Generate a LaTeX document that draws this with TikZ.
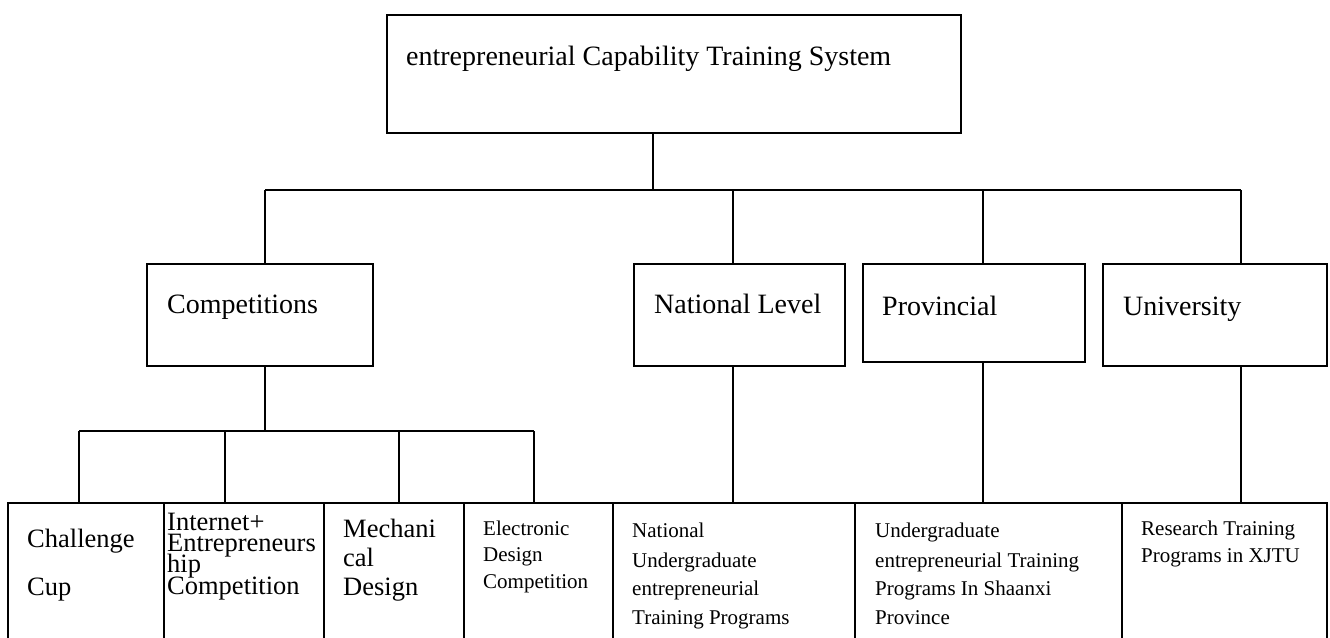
\documentclass[tikz,border=0pt]{standalone}
\usepackage{fontspec}
\setmainfont{Liberation Serif}
\begin{document}
\begin{tikzpicture}[x=1pt,y=-1pt,
  box/.style={draw=black, line width=1.8pt, inner sep=0pt, anchor=north west},
  conn/.style={draw=black, line width=1.4pt},
  lbl/.style={anchor=base west, inner sep=0pt},
  big/.style={lbl, font=\fontsize{28}{34}\selectfont},
  mid/.style={lbl, font=\fontsize{26.5}{32}\selectfont},
  sml/.style={lbl, font=\fontsize{21}{26}\selectfont}]
\useasboundingbox[fill=white] (0,0) rectangle (1330,637);

% boxes
\node[box, minimum width=574pt, minimum height=118pt] (top) at (386,14) {};
\node[box, minimum width=226pt, minimum height=102pt] (comp) at (146,263) {};
\node[box, minimum width=211pt, minimum height=102pt] (nat) at (633,263) {};
\node[box, minimum width=222pt, minimum height=98pt] (prov) at (862,263) {};
\node[box, minimum width=224pt, minimum height=102pt] (univ) at (1102,263) {};

\node[box, minimum width=156pt, minimum height=150pt] (b1) at (7,502) {};
\node[box, minimum width=160pt, minimum height=150pt] (b2) at (163,502) {};
\node[box, minimum width=140pt, minimum height=150pt] (b3) at (323,502) {};
\node[box, minimum width=149pt, minimum height=150pt] (b4) at (463,502) {};
\node[box, minimum width=242pt, minimum height=150pt] (b5) at (612,502) {};
\node[box, minimum width=267pt, minimum height=150pt] (b6) at (854,502) {};
\node[box, minimum width=205pt, minimum height=150pt] (b7) at (1121,502) {};

% level 1 connectors
\coordinate (j0) at (653,190);
\coordinate (d1) at (265,190);
\coordinate (d2) at (733,190);
\coordinate (d3) at (983,190);
\coordinate (d4) at (1241,190);
\draw[conn] (top.south -| j0) -- (j0);
\draw[conn] (d1) -- (d4);
\draw[conn] (d1) -- (d1 |- comp.north);
\draw[conn] (d2) -- (d2 |- nat.north);
\draw[conn] (d3) -- (d3 |- prov.north);
\draw[conn] (d4) -- (d4 |- univ.north);

% competitions connectors
\coordinate (c0) at (265,431);
\coordinate (e1) at (79,431);
\coordinate (e2) at (225,431);
\coordinate (e3) at (399,431);
\coordinate (e4) at (534,431);
\draw[conn] (comp.south -| c0) -- (c0);
\draw[conn] (e1) -- (e4);
\draw[conn] (e1) -- (e1 |- b1.north);
\draw[conn] (e2) -- (e2 |- b2.north);
\draw[conn] (e3) -- (e3 |- b3.north);
\draw[conn] (e4) -- (e4 |- b4.north);

% other level 2 connectors
\draw[conn] (nat.south -| d2) -- (d2 |- b5.north);
\draw[conn] (prov.south -| d3) -- (d3 |- b6.north);
\draw[conn] (univ.south -| d4) -- (d4 |- b7.north);

% texts
\node[big] (ttop) at (406,65) {entrepreneurial Capability Training System};
\node[big] (tcomp) at (167,313) {Competitions};
\node[big] (tnat) at (654,313) {National Level};
\node[big] (tprov) at (882,315) {Provincial};
\node[big] (tuniv) at (1123,315) {University};

\node[mid] (t1a) at (27,547) {Challenge};
\node[mid] (t1b) at (27,595) {Cup};

\node[mid] (t2a) at (167,530) {Internet+};
\node[mid] (t2b) at (167,551) {Entrepreneurs};
\node[mid] (t2c) at (167,572) {hip};
\node[mid] (t2d) at (167,594) {Competition};

\node[mid] (t3a) at (343,537) {Mechani};
\node[mid] (t3b) at (343,566) {cal};
\node[mid] (t3c) at (343,595) {Design};

\node[sml] (t4a) at (483,535) {Electronic};
\node[sml] (t4b) at (483,561) {Design};
\node[sml] (t4c) at (483,588) {Competition};

\node[sml] (t5a) at (632,537) {National};
\node[sml] (t5b) at (632,567) {Undergraduate};
\node[sml] (t5c) at (632,595) {entrepreneurial};
\node[sml] (t5d) at (632,624) {Training Programs};

\node[sml] (t6a) at (875,537) {Undergraduate};
\node[sml] (t6b) at (875,567) {entrepreneurial Training};
\node[sml] (t6c) at (875,595) {Programs In Shaanxi};
\node[sml] (t6d) at (875,624) {Province};

\node[sml] (t7a) at (1141,535) {Research Training};
\node[sml] (t7b) at (1141,562) {Programs in XJTU};
\end{tikzpicture}
\end{document}
